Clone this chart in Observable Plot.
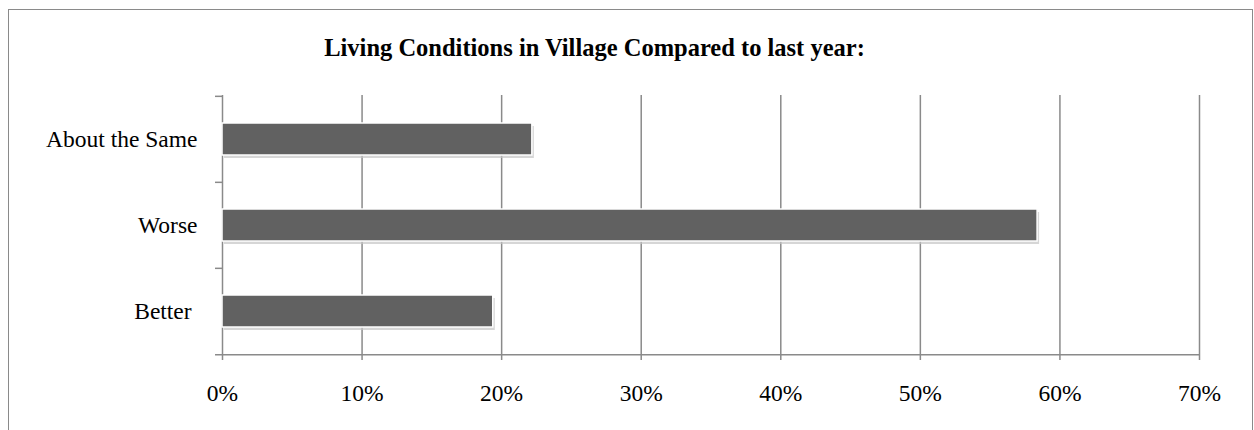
<!DOCTYPE html>
<html><head><meta charset="utf-8">
<script src="https://cdn.jsdelivr.net/npm/d3@7"></script>
<script src="https://cdn.jsdelivr.net/npm/@observablehq/plot@0.6"></script>
<style>
body{margin:0;background:#fff;overflow:hidden;}
#wrap{position:relative;width:1254px;height:430px;overflow:hidden;}
#border{position:absolute;left:8px;top:9px;width:1245px;height:460px;border:1.5px solid #8a8a8a;box-sizing:border-box;}
#chart{position:absolute;left:0;top:0;}
svg text{white-space:pre;}
</style></head><body>
<div id="wrap"><div id="border"></div><div id="chart"></div></div>
<script>
const title = "Living Conditions in Village Compared to last year:";
const categories = ["About the Same", "Worse", "Better "];
const values = [22.2, 58.4, 19.4];
const xTicks = [0, 10, 20, 30, 40, 50, 60, 70];

const data = categories.map((c, i) => ({category: c, value: values[i]}));
const top_ = 95, bottom_ = 354;
const step = (bottom_ - top_) / categories.length;
const gray = "#8a8a8a";
const font = "'Liberation Serif', 'Times New Roman', serif";

const plot = Plot.plot({
  width: 1254, height: 430,
  marginLeft: 222, marginRight: 55, marginTop: top_, marginBottom: 430 - bottom_,
  style: {fontFamily: font, fontSize: "23.5px", color: "#000", background: "transparent"},
  x: {domain: [0, 70], ticks: xTicks, tickFormat: d => d + "%", label: null},
  y: {domain: categories, padding: 0, label: null},
  marks: [
    Plot.ruleX(xTicks, {stroke: gray, strokeWidth: 1.5}),
    Plot.ruleY(categories, {y: d => d, x1: -0.5, x2: 0, dy: -step / 2, stroke: gray, strokeWidth: 1.5}),
    Plot.ruleY([categories[categories.length - 1]], {y: d => d, x1: -0.5, x2: 70, dy: step / 2, stroke: gray, strokeWidth: 1.5}),
    Plot.axisX({ticks: xTicks, tickSize: 6, tickPadding: 24, stroke: gray, strokeWidth: 1.5, fill: "#000", tickFormat: d => d + "%", fontSize: 23.5, label: null}),
    Plot.axisY({tickSize: 0, tickPadding: 25, fill: "#000", fontSize: 23.5, label: null}),
    Plot.barX(data, {x: "value", y: "category", insetTop: 27, insetBottom: 27, dx: 2, dy: 3, fill: "#c4c4c4", fillOpacity: 0.7}),
    Plot.barX(data, {x: "value", y: "category", insetTop: 27, insetBottom: 27, fill: "#616161", stroke: "#fff", strokeWidth: 1.5}),
    Plot.text([title], {frameAnchor: "top", dx: -116.5, dy: -40, lineAnchor: "bottom", fontWeight: "bold", fontSize: 24.5, fill: "#000"})
  ]
});
document.getElementById("chart").appendChild(plot);
</script>
</body></html>
